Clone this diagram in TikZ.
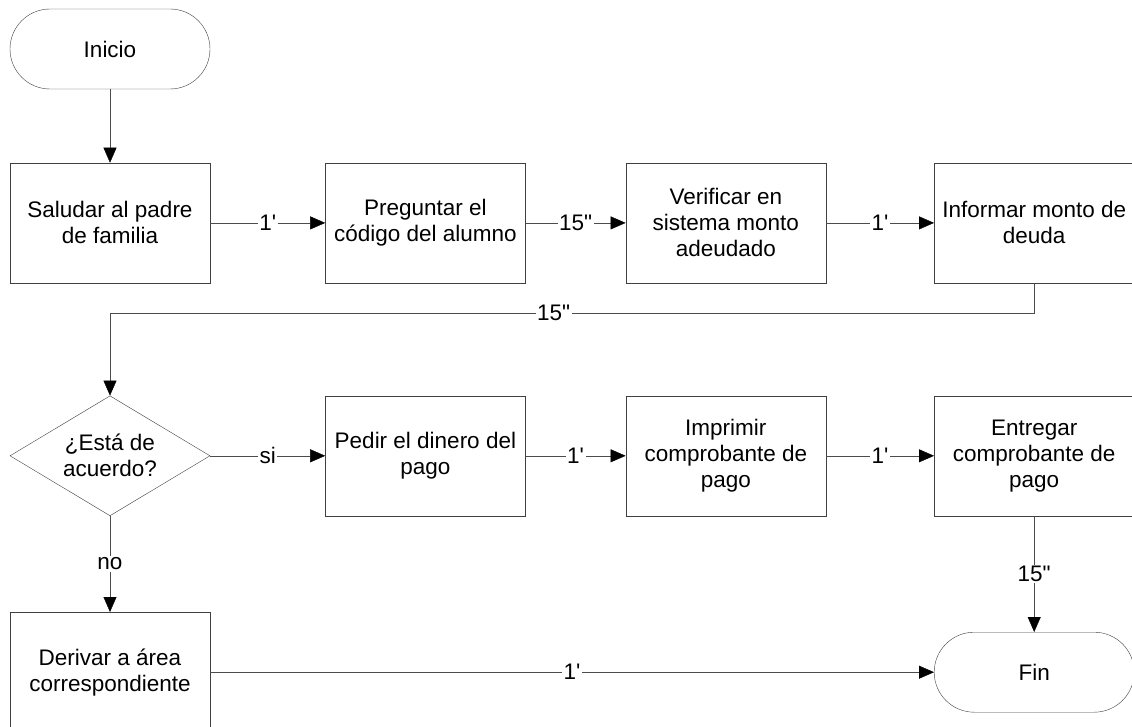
\documentclass[tikz,border=0pt]{standalone}
\usepackage{fontspec}
\setmainfont{Liberation Sans}[Ligatures=TeXOff]
\usepackage{tikz}
\usetikzlibrary{shapes,arrows.meta}
\usetikzlibrary{positioning}
\tikzset{>={Triangle[length=15pt,width=13pt,color=black]}, line width=1pt, font=\fontsize{22.5}{26}\selectfont}
\tikzstyle{block} = [draw=black!75, fill=white, rectangle, minimum height=120pt, minimum width=200pt, text centered, align=center]
\tikzstyle{terminal} = [draw=black!75, fill=white, rectangle, rounded corners=40pt, minimum height=80pt, minimum width=200pt, align=center]
\tikzstyle{decision} = [draw=black!75, fill=white, diamond, aspect=1.667, minimum height=120pt, minimum width=200pt, inner sep=0pt, align=center]
\tikzstyle{tlabel} = [fill=white, inner sep=1.5pt]
\tikzstyle{line} = [draw=black!70, ->]

\begin{document}
\begin{tikzpicture}
		\clip (0,0) rectangle (1132pt,-727pt);

		\node [terminal] at (110pt,-49pt) (inicio) {Inicio};

		\node [block, below=73.5pt of inicio] (saludar) {Saludar al padre\\de familia};
		\node [block, right=115pt of saludar] (preguntar) {Preguntar el\\código del alumno};
		\node [block, right=100pt of preguntar] (verificar) {Verificar en\\sistema monto\\adeudado};
		\node [block, right=108pt of verificar] (informar) {Informar monto de\\deuda};

		\node [decision, below=112.5pt of saludar] (acuerdo) {¿Está de\\acuerdo?};
		\node [block, right=115pt of acuerdo] (pedir) {Pedir el dinero del\\pago};
		\node [block, right=100pt of pedir] (imprimir) {Imprimir\\comprobante de\\pago};
		\node [block, right=108pt of imprimir] (entregar) {Entregar\\comprobante de\\pago};

		\node [block, below=96pt of acuerdo] (derivar) {Derivar a área\\correspondiente};
		\node [terminal, below=116pt of entregar] (fin) {Fin};

		\draw [line] (inicio) -- (saludar);
		\draw [line] (saludar) -- node [tlabel] {1'} (preguntar);
		\draw [line] (preguntar) -- node [tlabel] {15"} (verificar);
		\draw [line] (verificar) -- node [tlabel] {1'} (informar);
		\draw [line] (informar.south) -- ++(0,-30pt) -| node [tlabel, pos=0.26] {15"} (acuerdo.north);

		\draw [line] (acuerdo) -- node [tlabel] {si} (pedir);
		\draw [line] (pedir) -- node [tlabel] {1'} (imprimir);
		\draw [line] (imprimir) -- node [tlabel] {1'} (entregar);

		\draw [line] (acuerdo) -- node [tlabel] {no} (derivar);
		\draw [line] (entregar) -- node [tlabel] {15"} (fin);
		\draw [line] (derivar) -- node [tlabel] {1'} (fin);
	\end{tikzpicture}
\end{document}
